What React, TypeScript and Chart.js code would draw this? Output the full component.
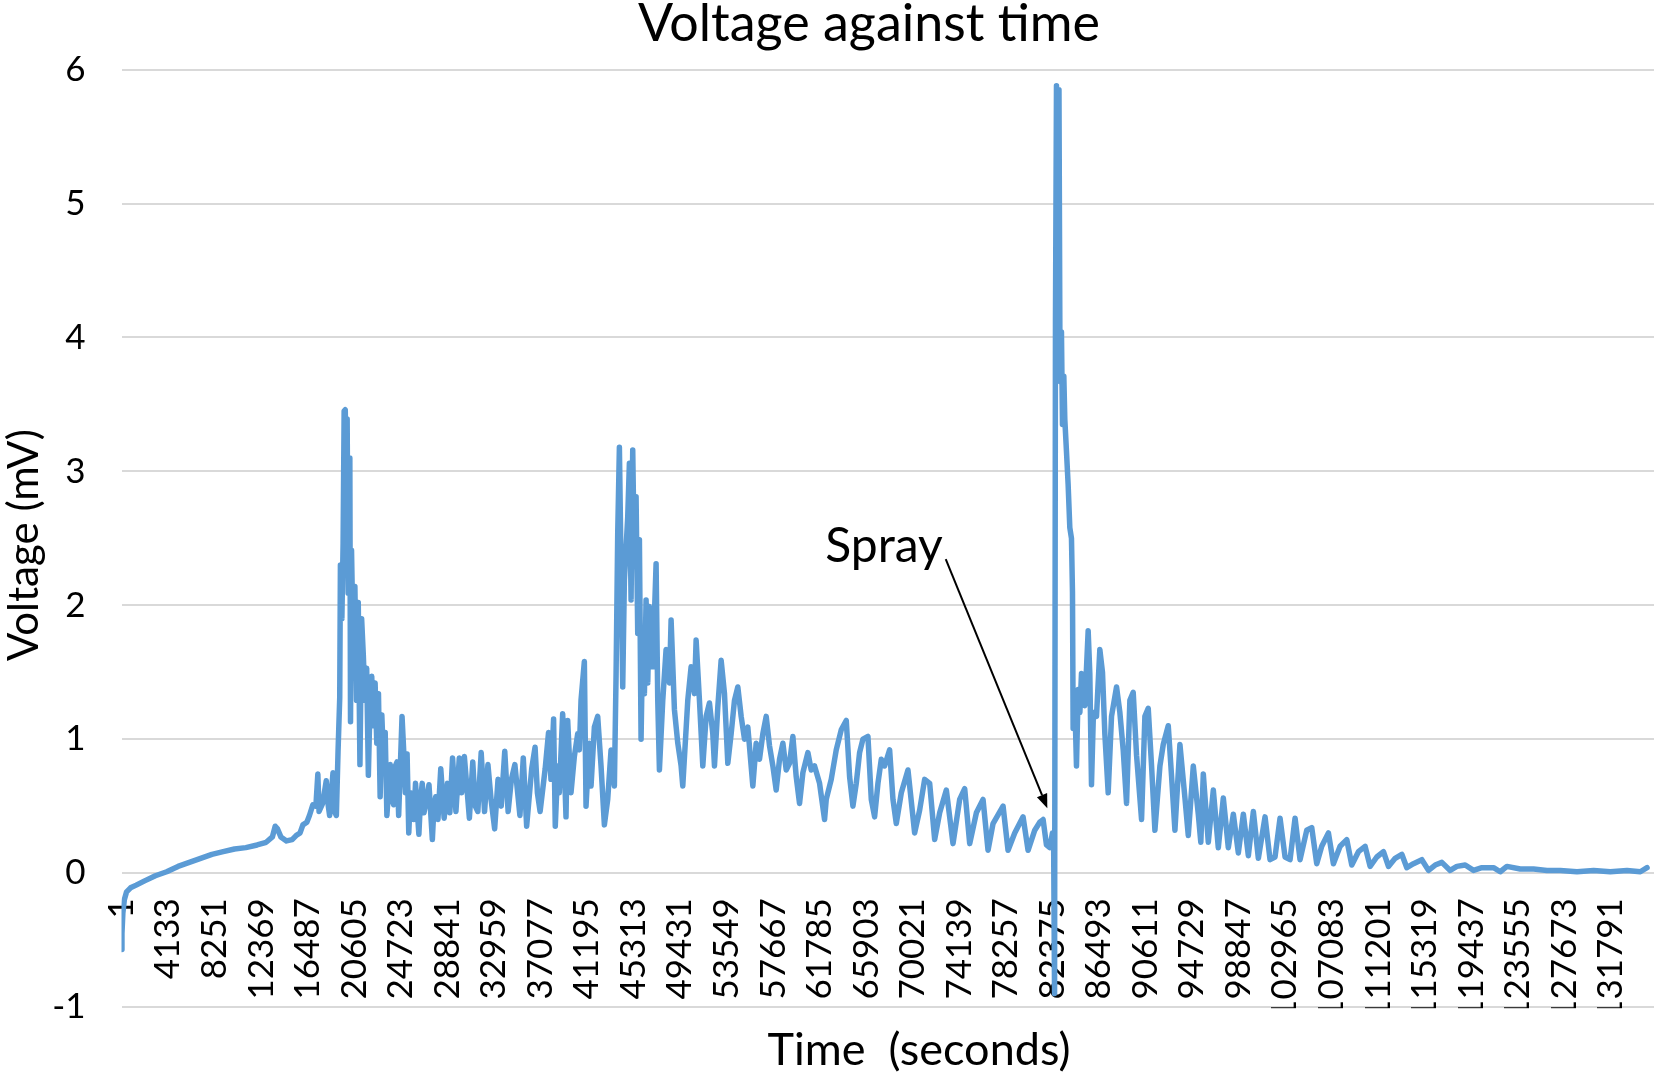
import React, { useEffect, useRef } from "react";
import { Chart, registerables } from "chart.js";

Chart.register(...registerables);

// ---- Data (time in seconds, voltage in mV) ----
const rampSamples: [number, number][] = [
  [1, -0.57], [40, -0.45], [120, -0.3], [250, -0.2], [450, -0.14], [800, -0.11], [1300, -0.09],
  [2000, -0.06], [3000, -0.02], [4000, 0.01], [5000, 0.05], [6000, 0.08], [7000, 0.11],
  [8000, 0.14], [9000, 0.16], [10000, 0.18], [11000, 0.19], [12000, 0.21], [12800, 0.23],
  [13350, 0.27], [13600, 0.35], [13800, 0.33], [14100, 0.27], [14600, 0.24], [15100, 0.25],
  [15450, 0.28], [15800, 0.3], [16050, 0.36], [16400, 0.38], [16630, 0.43], [16930, 0.51],
  [17200, 0.5], [17373, 0.74], [17480, 0.46], [17800, 0.52], [18118, 0.69], [18300, 0.5],
  [18416, 0.43], [18714, 0.75], [18900, 0.45], [19012, 0.43], [19161, 0.91], [19310, 1.31],
];

const firstPeakSamples: [number, number][] = [
  [19370, 2.3], [19500, 1.9], [19608, 2.46], [19700, 3.45], [19800, 3.46], [19900, 2.8],
  [19966, 3.39], [20055, 2.09], [20204, 3.1], [20264, 1.13], [20353, 2.41], [20500, 1.7],
  [20651, 2.14], [20800, 1.29], [20949, 2.02], [21098, 0.81], [21247, 1.9], [21396, 1.63],
  [21545, 1.29], [21694, 1.53], [21843, 0.73], [22000, 1.3], [22141, 1.47], [22300, 1.1],
  [22439, 1.42], [22588, 0.97], [22737, 1.34], [22886, 0.57], [23035, 1.18], [23200, 0.8],
  [23333, 1.05], [23482, 0.43], [23780, 0.81], [23930, 0.55], [24078, 0.51], [24230, 0.8],
  [24376, 0.83], [24525, 0.43], [24823, 1.17], [24972, 0.91], [25120, 0.6], [25270, 0.89],
  [25419, 0.3], [25570, 0.6], [25717, 0.54], [25870, 0.4], [26015, 0.67], [26313, 0.29],
  [26460, 0.55], [26611, 0.67], [26760, 0.45], [26909, 0.51], [27207, 0.66], [27505, 0.25],
  [27650, 0.5], [27803, 0.57], [28000, 0.4], [28250, 0.78], [28548, 0.41], [28846, 0.67],
  [29050, 0.45], [29293, 0.86], [29591, 0.46], [29889, 0.86], [30100, 0.6], [30336, 0.87],
  [30783, 0.41], [31081, 0.83], [31300, 0.5], [31528, 0.46], [31826, 0.9], [32124, 0.46],
  [32422, 0.81], [32700, 0.55], [33018, 0.33], [33316, 0.7], [33600, 0.5], [33912, 0.91],
  [34210, 0.46], [34500, 0.7], [34806, 0.81], [35253, 0.43], [35551, 0.86], [35849, 0.35],
  [36296, 0.78], [36594, 0.94], [36800, 0.6], [37041, 0.46], [37488, 0.78], [37786, 1.05],
  [38000, 0.7], [38233, 1.15], [38382, 0.35], [38600, 0.8],
];

const secondPeakSamples: [number, number][] = [
  [38741, 0.6], [39036, 1.19], [39331, 0.42], [39479, 1.14], [39774, 0.6], [40069, 0.87],
  [40365, 1.04], [40512, 0.92], [40660, 1.29], [40955, 1.58], [41103, 0.5], [41398, 0.97],
  [41545, 0.65], [41841, 1.09], [42136, 1.17], [42431, 0.8], [42726, 0.36], [43021, 0.55],
  [43317, 0.92], [43612, 0.65], [43759, 1.47], [43907, 2.54], [44055, 3.18], [44202, 2.29],
  [44350, 1.39], [44497, 2.19], [44793, 2.66], [44940, 3.06], [45088, 2.04], [45235, 3.16],
  [45383, 2.29], [45531, 2.81], [45678, 1.79], [45826, 2.49], [45973, 1.0], [46121, 1.79],
  [46269, 1.34], [46416, 2.04], [46564, 1.42], [46711, 1.99], [47007, 1.54], [47302, 2.31],
  [47449, 1.29], [47597, 0.77], [47892, 1.29], [48187, 1.67], [48483, 1.42], [48630, 1.89],
  [48925, 1.22], [49221, 0.97], [49516, 0.8], [49663, 0.65], [50106, 1.29], [50401, 1.54],
  [50697, 1.34], [50844, 1.74], [51139, 1.29], [51435, 0.8], [51730, 1.17], [52025, 1.27],
  [52320, 1.04], [52468, 0.8], [52763, 1.24], [53058, 1.59], [53353, 1.34], [53649, 0.82],
  [53944, 1.04], [54239, 1.29], [54534, 1.39], [54829, 1.17], [55125, 1.0], [55420, 1.09],
  [55863, 0.65], [56158, 0.97], [56453, 0.85], [56748, 1.04], [57043, 1.17], [57339, 0.95],
  [57634, 0.8], [57929, 0.62], [58224, 0.85], [58519, 0.97], [58815, 0.77], [59110, 0.82],
  [59405, 1.02], [59700, 0.72], [59995, 0.52], [60291, 0.75], [60733, 0.9], [61029, 0.77],
  [61324, 0.8], [61767, 0.67], [62210, 0.4], [62357, 0.55], [62800, 0.7], [63243, 0.92],
  [63685, 1.07], [64128, 1.14], [64424, 0.72], [64719, 0.5], [65014, 0.67], [65309, 0.9],
  [65604, 1.0], [66047, 1.02], [66343, 0.55], [66638, 0.42], [66933, 0.67], [67228, 0.85],
  [67523, 0.8], [67966, 0.92], [68261, 0.55], [68556, 0.37], [68999, 0.6], [69589, 0.77],
  [70180, 0.3], [70623, 0.47], [71065, 0.7], [71508, 0.67], [71951, 0.25], [72394, 0.45],
  [72984, 0.62], [73575, 0.22], [74165, 0.55], [74608, 0.63], [75051, 0.22], [75641, 0.45],
  [76232, 0.55], [76674, 0.17], [77117, 0.37], [78003, 0.5], [78446, 0.17], [79036, 0.3],
  [79774, 0.42], [80217, 0.17],
];

const spraySamples: [number, number][] = [
  [80808, 0.32], [81251, 0.38], [81546, 0.4], [81842, 0.21], [82137, 0.19], [82373, 0.3],
  [82480, 0.2], [82560, -0.9], [82640, 4.14], [82730, 5.88], [82850, 5.1], [82950, 5.85],
  [83030, 4.04], [83080, 3.67], [83170, 4.04], [83260, 3.35], [83380, 3.71], [83466, 3.39],
  [83613, 3.15], [83761, 2.9], [83909, 2.58], [84056, 2.5], [84145, 2.1], [84204, 1.08],
  [84352, 1.29], [84499, 0.8], [84647, 1.37], [84800, 1.2], [84942, 1.49], [85238, 1.25],
  [85533, 1.81], [85680, 1.49], [85828, 0.66], [86000, 1.2], [86271, 1.17], [86566, 1.67],
  [86800, 1.5], [87009, 1.04], [87305, 0.6], [87600, 1.17], [88043, 1.39], [88338, 1.2],
  [88633, 0.92], [88929, 0.52], [89224, 1.29], [89519, 1.35], [89815, 0.88], [90258, 0.4],
  [90553, 1.17], [90848, 1.23], [91143, 0.8], [91439, 0.32], [91882, 0.8], [92177, 0.96],
  [92620, 1.1], [92915, 0.72], [93210, 0.32], [93653, 0.96], [94096, 0.56], [94392, 0.28],
  [94835, 0.8], [95278, 0.44], [95500, 0.23], [95721, 0.74], [96164, 0.23], [96607, 0.62],
  [97049, 0.19], [97492, 0.56], [97935, 0.19], [98378, 0.44], [98821, 0.15], [99264, 0.44],
  [99707, 0.13], [100150, 0.46], [100593, 0.11],
];

const decaySamples: [number, number][] = [
  [101183, 0.42], [101626, 0.1], [102068, 0.12], [102511, 0.41], [102954, 0.12], [103397, 0.1],
  [103840, 0.41], [104282, 0.1], [104873, 0.32], [105316, 0.34], [105758, 0.07], [106201, 0.2],
  [106792, 0.3], [107234, 0.07], [107825, 0.2], [108415, 0.25], [108858, 0.06], [109448, 0.16],
  [110039, 0.2], [110482, 0.05], [111072, 0.12], [111662, 0.16], [112105, 0.05], [112696, 0.11],
  [113286, 0.14], [113729, 0.04], [114319, 0.07], [115057, 0.1], [115648, 0.02], [116238, 0.06],
  [116828, 0.08], [117566, 0.02], [118157, 0.05], [118895, 0.06], [119633, 0.02], [120371, 0.04],
  [121404, 0.04], [121994, 0.01], [122585, 0.05], [123766, 0.03], [124946, 0.03], [126127, 0.02],
  [127308, 0.02], [128784, 0.01], [130260, 0.02], [131736, 0.01], [133212, 0.02], [134392, 0.01],
  [134983, 0.04],
];

const xTickValues = [
  1, 4133, 8251, 12369, 16487, 20605, 24723, 28841, 32959, 37077, 41195, 45313, 49431,
  53549, 57667, 61785, 65903, 70021, 74139, 78257, 82375, 86493, 90611, 94729, 98847,
  102965, 107083, 111201, 115319, 119437, 123555, 127673, 131791,
];

const chartTitle = "Voltage against time";
const xAxisTitle = "Time  (seconds)";
const yAxisTitle = "Voltage (mV)";
const annotationLabel = "Spray";
// annotation anchors in data space: [seconds, mV]
const annotationTextAnchor: [number, number] = [67470, 2.32];
const annotationArrowFrom: [number, number] = [72930, 2.345];
const annotationArrowTo: [number, number] = [81920, 0.485];

const FONT = "Lato, 'Open Sans', sans-serif";

const textPlugin = {
  id: "textPlugin",
  afterDraw(chart: any) {
    const { ctx, chartArea, scales } = chart;
    const xs = scales.x;
    const ys = scales.y;
    ctx.save();
    // tick labels are cut at the bottom of the plot area, as in the reference
    ctx.fillStyle = "#ffffff";
    ctx.fillRect(
      chartArea.left + 4,
      chartArea.bottom + 1.2,
      chart.width - chartArea.left - 4,
      chart.height - chartArea.bottom
    );

    ctx.fillStyle = "#000000";
    ctx.textBaseline = "alphabetic";
    ctx.textAlign = "center";

    // chart title
    ctx.font = `52px ${FONT}`;
    ctx.fillText(chartTitle, 869, 41);

    // x axis title
    ctx.font = `45px ${FONT}`;
    ctx.fillText(xAxisTitle, 919, 1065);

    // y axis title
    ctx.save();
    ctx.translate(38, 545);
    ctx.rotate(-Math.PI / 2);
    ctx.font = `42px ${FONT}`;
    ctx.fillText(yAxisTitle, 0, 0);
    ctx.restore();

    // annotation text
    ctx.font = `48px ${FONT}`;
    ctx.fillText(
      annotationLabel,
      xs.getPixelForValue(annotationTextAnchor[0]),
      ys.getPixelForValue(annotationTextAnchor[1])
    );

    // arrow
    const x1 = xs.getPixelForValue(annotationArrowFrom[0]);
    const y1 = ys.getPixelForValue(annotationArrowFrom[1]);
    const x2 = xs.getPixelForValue(annotationArrowTo[0]);
    const y2 = ys.getPixelForValue(annotationArrowTo[1]);
    const ang = Math.atan2(y2 - y1, x2 - x1);
    const headLen = 14;
    const headW = 5.5;
    const c = Math.cos(ang);
    const s = Math.sin(ang);
    ctx.strokeStyle = "#000000";
    ctx.lineWidth = 2;
    ctx.beginPath();
    ctx.moveTo(x1, y1);
    ctx.lineTo(x2 - headLen * c, y2 - headLen * s);
    ctx.stroke();
    ctx.beginPath();
    ctx.moveTo(x2, y2);
    ctx.lineTo(x2 - headLen * c + headW * s, y2 - headLen * s - headW * c);
    ctx.lineTo(x2 - headLen * c - headW * s, y2 - headLen * s + headW * c);
    ctx.closePath();
    ctx.fill();
    ctx.restore();
  },
};

export default function App() {
  const canvasRef = useRef<HTMLCanvasElement>(null);

  useEffect(() => {
    document.body.style.margin = "0";
    const allSamples = [
      ...rampSamples,
      ...firstPeakSamples,
      ...secondPeakSamples,
      ...spraySamples,
      ...decaySamples,
    ];
    const chart = new Chart(canvasRef.current as HTMLCanvasElement, {
      type: "line",
      data: {
        datasets: [
          {
            label: "Voltage",
            data: allSamples.map(([t, v]) => ({ x: t, y: v })),
            borderColor: "#5B9BD5",
            backgroundColor: "#5B9BD5",
            borderWidth: 5.5,
            pointRadius: 0,
            tension: 0,
            borderJoinStyle: "round",
            borderCapStyle: "round",
            fill: false,
          },
        ],
      },
      options: {
        responsive: false,
        animation: false,
        devicePixelRatio: 1,
        layout: { padding: { top: 69.6, right: 3, bottom: 71, left: 0 } },
        plugins: {
          legend: { display: false },
          tooltip: { enabled: false },
          title: { display: false },
        },
        scales: {
          x: {
            type: "linear",
            min: 0,
            max: 135600,
            position: { y: 0 } as any,
            grid: { display: false, drawTicks: false },
            border: { display: false },
            afterBuildTicks: (scale: any) => {
              scale.ticks = xTickValues.map((v) => ({ value: v }));
            },
            afterFit: (scale: any) => {
              scale.paddingLeft = 0;
              scale.paddingRight = 0;
              scale.paddingTop = 0;
              scale.paddingBottom = 0;
            },
            ticks: {
              autoSkip: false,
              minRotation: 90,
              maxRotation: 90,
              padding: 25,
              color: "#000000",
              font: { family: FONT, size: 35 },
              callback: (v: any) => String(v),
            },
          },
          y: {
            type: "linear",
            min: -1,
            max: 6,
            afterFit: (scale: any) => {
              scale.width = 121.5;
            },
            grid: { color: "#D9D9D9", lineWidth: 2, drawTicks: false },
            border: { display: false },
            ticks: {
              stepSize: 1,
              padding: 36,
              color: "#000000",
              font: { family: FONT, size: 35 },
              callback: (v: any) => String(v),
            },
          },
        },
      },
      plugins: [textPlugin],
    });
    return () => chart.destroy();
  }, []);

  return (
    <div style={{ position: "absolute", left: 0, top: 0, width: 1657, height: 1078, background: "#ffffff" }}>
      <canvas ref={canvasRef} width={1657} height={1078} style={{ width: 1657, height: 1078, display: "block" }} />
    </div>
  );
}
